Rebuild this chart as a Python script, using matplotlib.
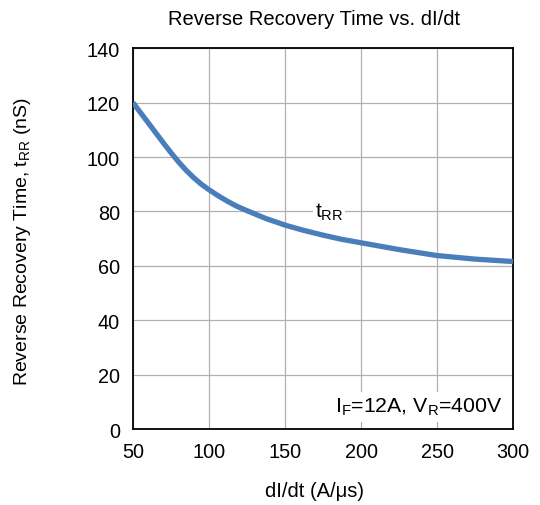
import matplotlib
matplotlib.use("Agg")
import matplotlib.pyplot as plt

plt.rcParams['font.family'] = ['Liberation Sans', 'DejaVu Sans']
plt.rcParams['mathtext.fontset'] = 'custom'
plt.rcParams['mathtext.rm'] = 'Liberation Sans'
plt.rcParams['mathtext.it'] = 'Liberation Sans'
plt.rcParams['mathtext.default'] = 'regular'

# data
didt = [50, 55, 60, 65, 70, 75, 80, 85, 90, 95, 100, 106, 112, 118, 125, 137, 150, 162, 175, 187, 200, 225, 250, 275, 300]
trr = [120, 116.3, 112.6, 108.9, 105.2, 101.6, 98.2, 95.1, 92.4, 90.0, 88.0, 85.8, 83.8, 82.0, 80.3, 77.5, 75, 73.1, 71.3, 69.8, 68.5, 66, 63.8, 62.5, 61.6]
xticks = [50, 100, 150, 200, 250, 300]
yticks = [0, 20, 40, 60, 80, 100, 120, 140]

fig = plt.figure(figsize=(5.4, 5.06), dpi=100)
ax = fig.add_axes([0.2463, 0.150, 0.7037, 0.7526])
ax.plot(didt, trr, color='#4a7ebb', lw=3.8, solid_capstyle='butt', solid_joinstyle='round', zorder=3)
ax.set_xlim(50, 300)
ax.set_ylim(0, 140)
ax.set_xticks(xticks)
ax.set_yticks(yticks)
ax.grid(True, color='#b0b0b0', lw=0.9)
ax.tick_params(length=0, labelsize=14.3)
ax.tick_params(axis='x', pad=9)
ax.tick_params(axis='y', pad=9.5)
for s in ax.spines.values():
    s.set_linewidth(1.3)
    s.set_color('black')

fig.text(0.5815, 0.962, 'Reverse Recovery Time vs. dI/dt', ha='center', va='center', fontsize=14.5)
fig.text(0.5815, 0.028, 'dI/dt (A/μs)', ha='center', va='center', fontsize=14.5)
fig.text(0.041, 0.522, 'Reverse Recovery Time, t$_{RR}$ (nS)', ha='center', va='center',
         rotation=90, fontsize=14)

ax.text(0.973, 0.045, 'I$_F$=12A, V$_R$=400V', transform=ax.transAxes, ha='right', va='baseline',
        fontsize=15.3, zorder=5,
        bbox=dict(facecolor='white', edgecolor='none', pad=3))
ax.text(179, 80, 't$_{RR}$', ha='center', va='center', fontsize=15, zorder=4,
        bbox=dict(facecolor='white', edgecolor='none', pad=1))

fig.savefig('out.png', dpi=100)
